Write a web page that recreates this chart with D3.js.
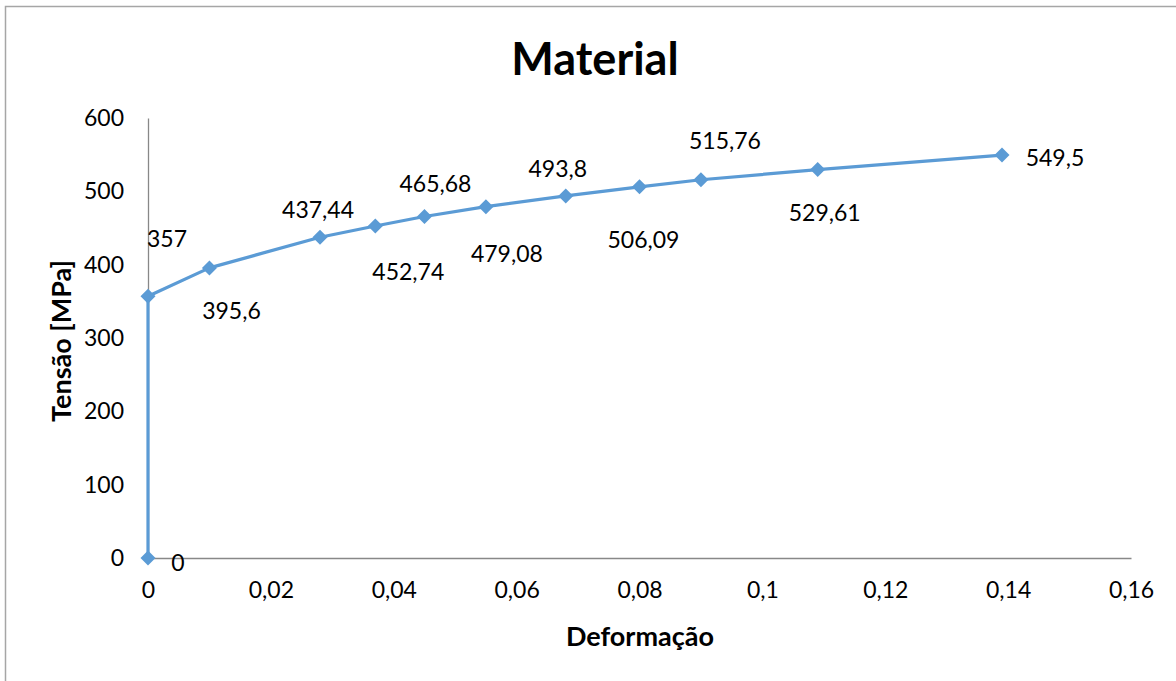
<!DOCTYPE html>
<html>
<head>
<meta charset="utf-8">
<script src="https://cdn.jsdelivr.net/npm/d3@7"></script>
<style>
  html, body { margin: 0; padding: 0; background: #fff; }
  svg { display: block; font-family: Lato, "Open Sans", sans-serif; }
</style>
</head>
<body>
<svg id="chart" width="1176" height="681"></svg>
<script>
// Stress–strain curve of the material
const strain = [0, 0, 0.01, 0.028, 0.037, 0.045, 0.055, 0.068, 0.08, 0.09, 0.109, 0.139];
const stress = [0, 357, 395.6, 437.44, 452.74, 465.68, 479.08, 493.8, 506.09, 515.76, 529.61, 549.5];

const xTicks = [0, 0.02, 0.04, 0.06, 0.08, 0.1, 0.12, 0.14, 0.16];
const yTicks = [0, 100, 200, 300, 400, 500, 600];

// Offset of each value label from its marker (label centre)
const labelDx = [30, 19, 22, -2, 33, 11, 21, -8, 4, 24, 7, 53];
const labelDy = [4, -58, 42, -28, 45, -34, 46, -28, 52, -40, 42, 2];

const svg = d3.select("#chart");
const W = 1176, H = 681;
const plot = { left: 148, right: 1131, top: 118, bottom: 558 };

const ptBr = v => String(v).replace(".", ",");

// outer chart frame
svg.append("rect")
  .attr("x", 5.5).attr("y", 6.5)
  .attr("width", W + 10).attr("height", H + 10)
  .attr("fill", "#fff").attr("stroke", "#a6a6a6").attr("stroke-width", 1.5);

const x = d3.scaleLinear().domain([0, 0.16]).range([plot.left, plot.right]);
const y = d3.scaleLinear().domain([0, 600]).range([plot.bottom, plot.top]);

// axes
const xAxis = svg.append("g")
  .attr("transform", `translate(0,${plot.bottom})`)
  .call(d3.axisBottom(x).tickValues(xTicks).tickSize(0).tickPadding(24).tickFormat(ptBr));
const yAxis = svg.append("g")
  .attr("transform", `translate(${plot.left},0)`)
  .call(d3.axisLeft(y).tickValues(yTicks).tickSize(0).tickPadding(24).tickFormat(ptBr));

[xAxis, yAxis].forEach(g => {
  g.select(".domain").attr("stroke", "#888").attr("stroke-width", 1.3);
  g.selectAll("text").attr("font-size", 23).attr("fill", "#000")
    .attr("font-family", "Lato, sans-serif");
});
xAxis.selectAll("text").attr("dy", "0.71em");

const pts = strain.map((s, i) => ({ s, v: stress[i], i }));

// curve
svg.append("path")
  .datum(pts)
  .attr("fill", "none")
  .attr("stroke", "#5b9bd5")
  .attr("stroke-width", 3.2)
  .attr("stroke-linejoin", "round")
  .attr("d", d3.line().x(d => x(d.s)).y(d => y(d.v)));

// diamond markers
svg.selectAll("path.marker")
  .data(pts)
  .join("path")
  .attr("class", "marker")
  .attr("transform", d => `translate(${x(d.s)},${y(d.v)})`)
  .attr("d", "M0,-7.5L7.5,0L0,7.5L-7.5,0Z")
  .attr("fill", "#5b9bd5");

// value labels
svg.selectAll("text.val")
  .data(pts)
  .join("text")
  .attr("class", "val")
  .attr("x", d => x(d.s) + labelDx[d.i])
  .attr("y", d => y(d.v) + labelDy[d.i])
  .attr("text-anchor", "middle")
  .attr("dominant-baseline", "central")
  .attr("font-size", 23)
  .attr("fill", "#000")
  .text(d => ptBr(d.v));

// titles
svg.append("text")
  .attr("x", 595).attr("y", 58)
  .attr("text-anchor", "middle").attr("dominant-baseline", "central")
  .attr("font-size", 45).attr("font-weight", "bold")
  .text("Material");

svg.append("text")
  .attr("x", 640).attr("y", 635)
  .attr("text-anchor", "middle").attr("dominant-baseline", "central")
  .attr("font-size", 27).attr("font-weight", "bold")
  .text("Deformação");

svg.append("text")
  .attr("transform", "translate(60,341) rotate(-90)")
  .attr("text-anchor", "middle").attr("dominant-baseline", "central")
  .attr("font-size", 27).attr("font-weight", "bold")
  .text("Tensão [MPa]");
</script>
</body>
</html>
